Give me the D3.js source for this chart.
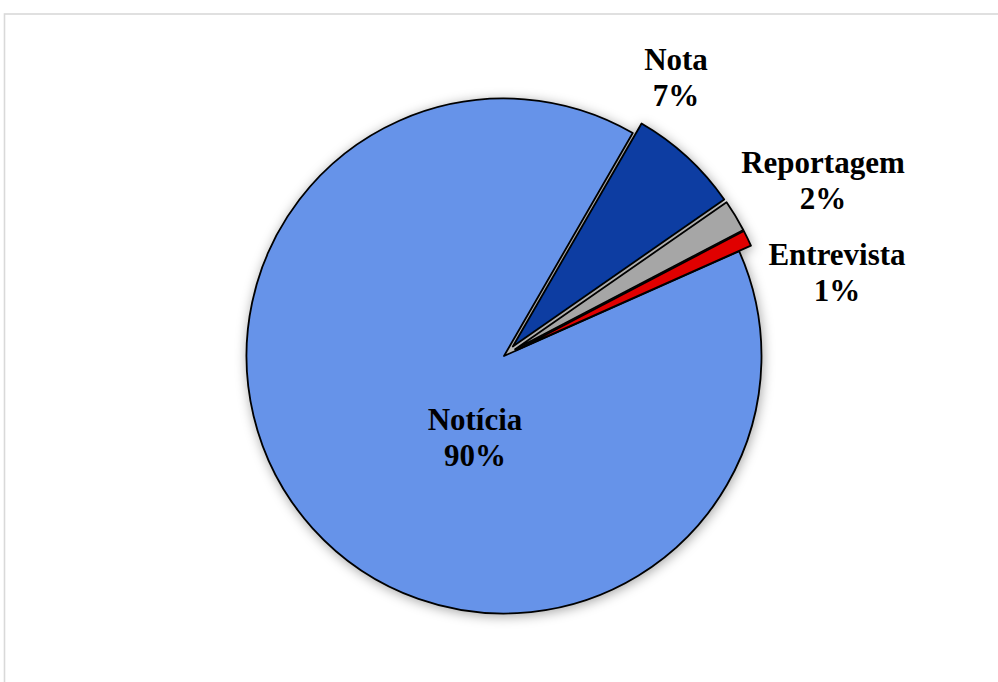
<!DOCTYPE html>
<html>
<head>
<meta charset="utf-8">
<script src="https://cdn.jsdelivr.net/npm/d3@7"></script>
<style>
  html, body { margin: 0; padding: 0; background: #ffffff; }
  svg { display: block; }
</style>
</head>
<body>
<svg id="chart" width="998" height="682"></svg>
<script>
// Tipos de matéria (percentual do total)
const categories = ["Notícia", "Nota", "Reportagem", "Entrevista"];
const values = [90, 7, 2, 1];
const colors = ["#6693e9", "#073ca2", "#a6a6a6", "#e00000"];
// Fatias destacadas do centro
const exploded = [false, true, true, true];

const width = 998, height = 682;
const cx = 504, cy = 356, radius = 257.5;
const explodeDist = 13;

const svg = d3.select("#chart");

// Moldura da área do gráfico
svg.append("rect")
  .attr("x", 4.5).attr("y", 14)
  .attr("width", 1100).attr("height", 800)
  .attr("fill", "none")
  .attr("stroke", "#d9d9d9")
  .attr("stroke-width", 1.6);

// Sombra suave em volta do disco
const defs = svg.append("defs");
const filt = defs.append("filter").attr("id", "shadow")
  .attr("x", "-20%").attr("y", "-20%").attr("width", "140%").attr("height", "140%");
filt.append("feDropShadow")
  .attr("dx", 1).attr("dy", 2)
  .attr("stdDeviation", 6)
  .attr("flood-color", "#000")
  .attr("flood-opacity", 0.35);

const data = categories.map((c, i) => ({ name: c, value: values[i], color: colors[i], exploded: exploded[i] }));

const startDeg = 66;
const pie = d3.pie()
  .value(d => d.value)
  .sort(null)
  .startAngle(startDeg * Math.PI / 180)
  .endAngle((startDeg + 360) * Math.PI / 180);

const arc = d3.arc().innerRadius(0).outerRadius(radius);
const arcs = pie(data);

const g = svg.append("g")
  .attr("transform", `translate(${cx},${cy})`)
  .attr("filter", "url(#shadow)");

g.selectAll("path")
  .data(arcs)
  .join("path")
  .attr("d", arc)
  .attr("transform", d => {
    if (!d.data.exploded) return null;
    const mid = (d.startAngle + d.endAngle) / 2;
    return `translate(${Math.sin(mid) * explodeDist},${-Math.cos(mid) * explodeDist})`;
  })
  .attr("fill", d => d.data.color)
  .attr("stroke", "#000")
  .attr("stroke-width", 1.8)
  .attr("stroke-linejoin", "round");

// Posição dos rótulos (centro do texto, linha de base da primeira linha)
const labelPos = {
  "Notícia":    { x: 475, y: 430 },
  "Nota":       { x: 676, y: 70 },
  "Reportagem": { x: 823, y: 173 },
  "Entrevista": { x: 837, y: 265 }
};

const fmt = v => `${Math.round(v)}%`;
const total = d3.sum(values);

const labels = svg.append("g")
  .attr("font-family", "'Liberation Serif', 'Times New Roman', serif")
  .attr("font-weight", "bold")
  .attr("font-size", 31)
  .attr("fill", "#000")
  .attr("text-anchor", "middle");

arcs.forEach(d => {
  const p = labelPos[d.data.name];
  const t = labels.append("text").attr("x", p.x).attr("y", p.y);
  t.append("tspan").attr("x", p.x).text(d.data.name);
  t.append("tspan").attr("x", p.x).attr("dy", 35.5).text(fmt(d.data.value / total * 100));
});
</script>
</body>
</html>
